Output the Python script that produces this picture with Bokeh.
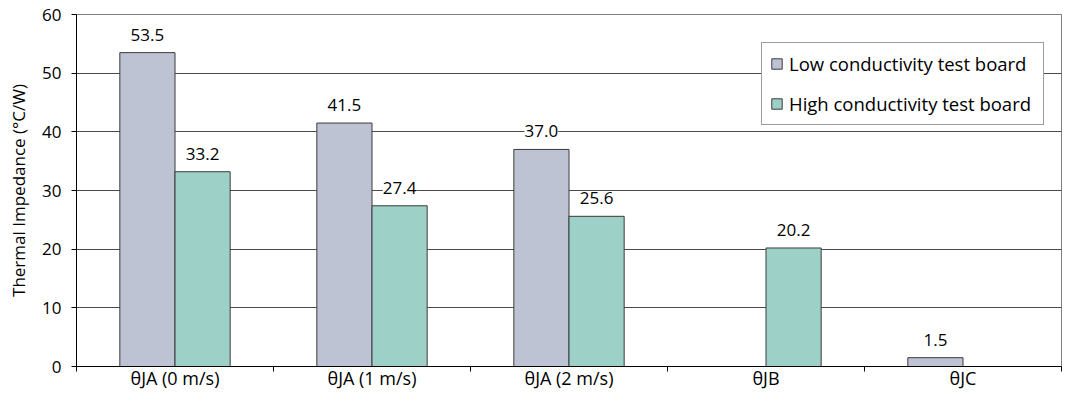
import numpy as np
from bokeh.plotting import figure
from bokeh.models import ColumnDataSource, LabelSet, FixedTicker, Legend, LegendItem
from bokeh.core.properties import value
from bokeh.embed import file_html
from bokeh.resources import INLINE

categories = ["θJA (0 m/s)", "θJA (1 m/s)", "θJA (2 m/s)", "θJB", "θJC"]
low_values = [53.5, 41.5, 37.0, np.nan, 1.5]
high_values = [33.2, 27.4, 25.6, 20.2, np.nan]
series_names = ["Low conductivity test board", "High conductivity test board"]
series_colors = ["#BEC3D4", "#9DD0C6"]
y_ticks = [0, 10, 20, 30, 40, 50, 60]
y_label = "Thermal Impedance (°C/W)"

FONT = "Open Sans"
n = len(categories)
centers = np.arange(n) + 0.5
bw = 0.28
offsets = [-bw / 2, bw / 2]

p = figure(width=1063, height=392, x_range=(0, n), y_range=(0, 60),
           output_backend="svg", toolbar_location=None,
           min_border_left=76, min_border_right=2, min_border_top=14, min_border_bottom=25)
p.background_fill_color = "white"
p.border_fill_color = "white"
p.outline_line_color = "#7f7f7f"

p.xgrid.visible = False
p.ygrid.grid_line_color = "#4a4a4a"
p.ygrid.grid_line_width = 1

items = []
for vals, name, color, off in zip([low_values, high_values], series_names, series_colors, offsets):
    v = np.array(vals, dtype=float)
    m = ~np.isnan(v)
    src = ColumnDataSource(dict(x=centers[m] + off, top=v[m],
                                text=[f"{t:.1f}" for t in v[m]]))
    r = p.vbar(x="x", top="top", bottom=0, width=bw, source=src,
               fill_color=color, line_color="#3a3a3a", line_width=1)
    items.append(LegendItem(label=name, renderers=[r]))
    labels = LabelSet(x="x", y="top", text="text", source=src,
                      text_align="center", text_baseline="alphabetic", y_offset=12,
                      text_font=value(FONT), text_font_size=value("17px"),
                      text_color="black", background_fill_color="white")
    p.add_layout(labels)

legend = Legend(items=items, location=(685, 241))
legend.label_text_font = FONT
legend.label_text_font_size = "18.5px"
legend.label_text_color = "black"
legend.glyph_width = 13
legend.glyph_height = 13
legend.label_height = 20
legend.label_width = 246
legend.label_standoff = 6
legend.spacing = 15
legend.padding = 8
legend.margin = 0
legend.border_line_color = "#3a3a3a"
legend.border_line_width = 1
legend.background_fill_color = "white"
legend.background_fill_alpha = 1
p.add_layout(legend)

# x axis
xa = p.xaxis[0]
xa.ticker = FixedTicker(ticks=list(centers), minor_ticks=list(range(n + 1)))
xa.major_label_overrides = {float(c): cat for c, cat in zip(centers, categories)}
xa.major_tick_line_color = None
xa.major_tick_out = 0
xa.major_tick_in = 0
xa.minor_tick_line_color = "black"
xa.minor_tick_out = 5
xa.minor_tick_in = 0
xa.axis_line_color = "black"
xa.major_label_standoff = -6
xa.major_label_text_font = FONT
xa.major_label_text_font_size = "18px"
xa.major_label_text_color = "black"

# y axis
ya = p.yaxis[0]
ya.ticker = FixedTicker(ticks=y_ticks)
ya.major_tick_out = 5
ya.major_tick_in = 0
ya.minor_tick_line_color = None
ya.axis_line_color = "black"
ya.major_tick_line_color = "black"
ya.major_label_standoff = 10
ya.major_label_text_font = FONT
ya.major_label_text_font_size = "17px"
ya.major_label_text_color = "black"
ya.axis_label = y_label
ya.axis_label_text_font = FONT
ya.axis_label_text_font_size = "17px"
ya.axis_label_text_font_style = "normal"
ya.axis_label_text_color = "black"
ya.axis_label_standoff = 9

open("out.html", "w").write(file_html(p, INLINE))
